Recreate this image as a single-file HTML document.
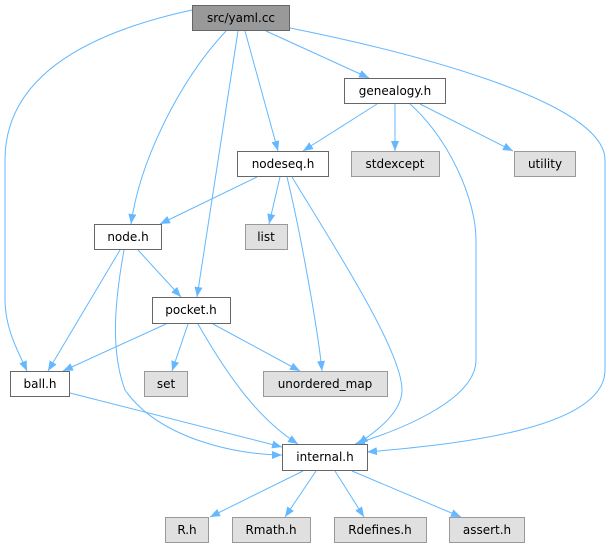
<!DOCTYPE html>
<html><head><meta charset="utf-8"><style>
html,body{margin:0;padding:0;background:#fff;}
svg{display:block}
text{font-family:"DejaVu Sans","Liberation Sans",sans-serif;font-size:12px;fill:#000;text-anchor:middle}
.e{fill:none;stroke:#63b8ff;stroke-width:1}
.w{fill:#fff;stroke:#666;stroke-width:1}
.g{fill:#e0e0e0;stroke:#999;stroke-width:1}
</style></head><body>
<svg width="616" height="549" viewBox="0 0 616 549" xmlns="http://www.w3.org/2000/svg">
<defs><marker id="a" viewBox="0 0 10 10" refX="10" refY="5" markerWidth="10" markerHeight="10" markerUnits="userSpaceOnUse" orient="auto"><path d="M0,1 L10,5 L0,9 Z" fill="#63b8ff"/></marker></defs>
<g marker-end="url(#a)">
<path class="e" d="M192,10 C100,30 5,70 5,160 L5,300 C5,330 20,355 27,371"/>
<path class="e" d="M226,31 C180,80 140,160 131,224"/>
<path class="e" d="M238,31 L197,297"/>
<path class="e" d="M245,31 L278,151"/>
<path class="e" d="M266,31 L369,78"/>
<path class="e" d="M290,28 C400,50 605,100 605,160 L605,370 C605,430 450,445 367,452"/>
<path class="e" d="M377,104 L303,151"/>
<path class="e" d="M395,104 L395,151"/>
<path class="e" d="M420,104 L513,151"/>
<path class="e" d="M410,104 C450,140 476,200 476,240 L476,360 C476,400 400,430 355,444"/>
<path class="e" d="M257,177 L160,224"/>
<path class="e" d="M280,177 L269,224"/>
<path class="e" d="M287,177 C300,230 318,330 322,371"/>
<path class="e" d="M292,177 C330,240 402,350 402,390 C402,415 370,435 358,444"/>
<path class="e" d="M120,250 L48,371"/>
<path class="e" d="M138,250 L181,297"/>
<path class="e" d="M124,250 C115,300 110,350 125,390 C160,440 240,455 282,455"/>
<path class="e" d="M166,324 L63,371"/>
<path class="e" d="M188,324 L172,371"/>
<path class="e" d="M213,324 L300,371"/>
<path class="e" d="M198,324 C230,380 260,420 298,444"/>
<path class="e" d="M70,393 L282,447"/>
<path class="e" d="M303,471 L210,517"/>
<path class="e" d="M316,471 L285,517"/>
<path class="e" d="M335,471 L364,517"/>
<path class="e" d="M352,471 L461,517"/>
</g>
<rect x="192.5" y="5.5" width="97" height="25" fill="#999" stroke="#666"/><text x="241" y="22">src/yaml.cc</text>
<rect class="w" x="344.5" y="78.5" width="101" height="25"/><text x="395" y="95">genealogy.h</text>
<rect class="w" x="237.5" y="151.5" width="91" height="25"/><text x="283" y="168">nodeseq.h</text>
<rect class="g" x="351.5" y="151.5" width="88" height="25"/><text x="395" y="168">stdexcept</text>
<rect class="g" x="514.5" y="151.5" width="61" height="25"/><text x="545" y="168">utility</text>
<rect class="w" x="94.5" y="224.5" width="67" height="25"/><text x="128" y="241">node.h</text>
<rect class="g" x="245.5" y="224.5" width="42" height="25"/><text x="266" y="241">list</text>
<rect class="w" x="152.5" y="297.5" width="78" height="26"/><text x="191" y="314">pocket.h</text>
<rect class="w" x="10.5" y="371.5" width="59" height="25"/><text x="40" y="388">ball.h</text>
<rect class="g" x="144.5" y="371.5" width="43" height="25"/><text x="166" y="388">set</text>
<rect class="g" x="263.5" y="371.5" width="124" height="25"/><text x="325" y="388">unordered_map</text>
<rect class="w" x="282.5" y="444.5" width="85" height="26"/><text x="325" y="461">internal.h</text>
<rect class="g" x="165.5" y="517.5" width="43" height="25"/><text x="187" y="534">R.h</text>
<rect class="g" x="232.5" y="517.5" width="78" height="25"/><text x="271" y="534">Rmath.h</text>
<rect class="g" x="334.5" y="517.5" width="92" height="25"/><text x="380" y="534">Rdefines.h</text>
<rect class="g" x="449.5" y="517.5" width="75" height="25"/><text x="487" y="534">assert.h</text>
</svg>
</body></html>
